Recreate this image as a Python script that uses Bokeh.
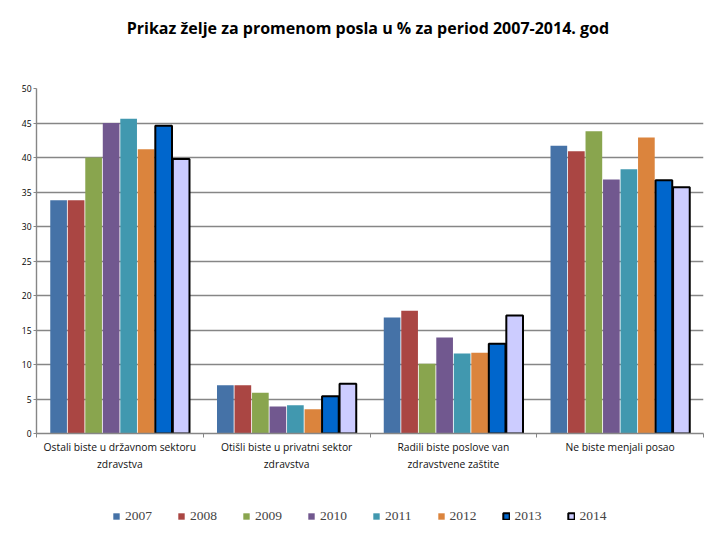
from bokeh.plotting import figure
from bokeh.models import Range1d, FixedTicker, Legend, LegendItem, Title
from bokeh.layouts import column
from bokeh.embed import file_html
from bokeh.resources import INLINE

categories = ["Ostali biste u državnom sektoru\nzdravstva",
              "Otišli biste u privatni sektor\nzdravstva",
              "Radili biste poslove van\nzdravstvene zaštite",
              "Ne biste menjali posao"]
years = ["2007", "2008", "2009", "2010", "2011", "2012", "2013", "2014"]
values = {
    "2007": [33.8, 7.0, 16.8, 41.7],
    "2008": [33.8, 7.0, 17.8, 40.9],
    "2009": [40.0, 5.9, 10.1, 43.8],
    "2010": [45.0, 3.9, 13.9, 36.8],
    "2011": [45.6, 4.1, 11.6, 38.3],
    "2012": [41.2, 3.5, 11.7, 42.9],
    "2013": [44.6, 5.4, 13.0, 36.7],
    "2014": [39.8, 7.2, 17.1, 35.7],
}
colors = ["#4572A7", "#AA4643", "#89A54E", "#71588F", "#4198AF", "#DB843D", "#0066CC", "#CCCCFF"]
y_ticks = [0, 5, 10, 15, 20, 25, 30, 35, 40, 45, 50]

p = figure(frame_width=667, frame_height=345, output_backend="svg", toolbar_location=None,
           x_range=Range1d(0, len(categories)), y_range=Range1d(0, 50),
           min_border_left=36, min_border_right=9, min_border_top=88, min_border_bottom=60)

p.title.text = "Prikaz želje za promenom posla u  % za period 2007-2014. god"
p.title.align = "center"
p.title.text_font = "Open Sans"
p.title.text_font_size = "16px"
p.title.text_font_style = "bold"
p.title.text_color = "#000000"

# empty spacer between the title and the plot area
p.add_layout(Title(text=" ", text_font_size="30px", standoff=10), "above")

p.outline_line_color = None
p.background_fill_color = "white"
p.border_fill_color = "white"

gray = "#868686"
p.xgrid.grid_line_color = None
p.ygrid.grid_line_color = gray
p.ygrid.grid_line_width = 1.4
p.ygrid.ticker = FixedTicker(ticks=y_ticks)

p.yaxis.ticker = FixedTicker(ticks=y_ticks)
p.yaxis.axis_line_color = gray
p.yaxis.axis_line_width = 1.4
p.yaxis.major_tick_line_color = gray
p.yaxis.major_tick_in = 0
p.yaxis.major_tick_out = 3
p.yaxis.minor_tick_line_color = None
p.yaxis.major_label_text_font = "Open Sans"
p.yaxis.major_label_text_font_size = "8.5px"
p.yaxis.major_label_text_color = "#000000"
p.yaxis.major_label_standoff = 2

centers = [k + 0.5 for k in range(len(categories))]
p.xaxis.ticker = FixedTicker(ticks=centers, minor_ticks=list(range(len(categories) + 1)))
p.xaxis.major_label_overrides = {c: lab for c, lab in zip(centers, categories)}
p.xaxis.axis_line_color = gray
p.xaxis.axis_line_width = 1.4
p.xaxis.major_tick_line_color = None
p.xaxis.minor_tick_line_color = gray
p.xaxis.minor_tick_in = 0
p.xaxis.minor_tick_out = 4
p.xaxis.major_label_text_font = "Open Sans"
p.xaxis.major_label_text_font_size = "10.3px"
p.xaxis.major_label_text_color = "#111111"
p.xaxis.major_label_text_line_height = 1.27
p.xaxis.major_label_standoff = 0

# legend strip below the chart (its renderers are hidden; only the legend shows)
lf = figure(width=712, height=44, output_backend="svg", toolbar_location=None,
            x_range=Range1d(0, len(categories)), y_range=Range1d(100, 101),
            min_border=0, x_axis_location=None, y_axis_location=None)
lf.outline_line_color = None
lf.xgrid.grid_line_color = None
lf.ygrid.grid_line_color = None

bar_w = 0.1
step = 0.105
items = []
for i, yr in enumerate(years):
    off = (i - (len(years) - 1) / 2) * step
    xs = [c + off for c in centers]
    outlined = yr in ("2013", "2014")
    style = dict(width=bar_w, bottom=0, fill_color=colors[i],
                 line_color="black" if outlined else None,
                 line_width=2 if outlined else 0)
    p.vbar(x=xs, top=values[yr], **style)
    r = lf.vbar(x=xs, top=values[yr], **style)
    r.visible = False
    items.append(LegendItem(label=yr, renderers=[r]))

legend = Legend(items=items, orientation="horizontal", location=(76, 13),
                glyph_width=8, glyph_height=8, label_standoff=5, spacing=25,
                label_text_font="Liberation Serif", label_text_font_size="13.5px",
                inactive_fill_alpha=0,
                border_line_color=None, background_fill_alpha=0, margin=0, padding=2)
lf.add_layout(legend, "center")

open("out.html", "w").write(file_html(column(p, lf, spacing=0), INLINE))
